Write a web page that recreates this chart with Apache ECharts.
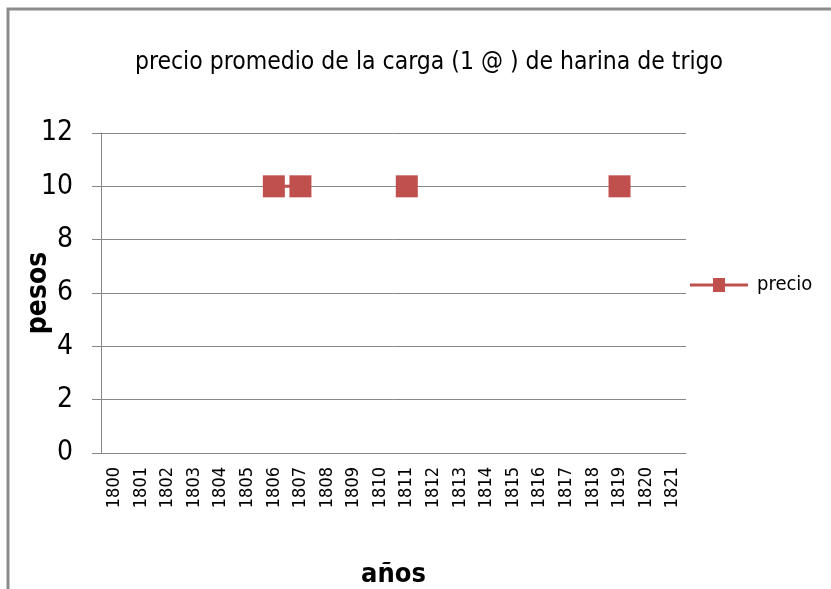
<!DOCTYPE html>
<html>
<head>
<meta charset="utf-8">
<script src="https://cdn.jsdelivr.net/npm/echarts@6/dist/echarts.min.js"></script>
<style>
  html, body { margin: 0; padding: 0; background: #fff; }
  #chart { width: 831px; height: 589px; }
</style>
</head>
<body>
<div id="chart"></div>
<script>
// años 1800-1821
const years = ['1800', '1801', '1802', '1803', '1804', '1805', '1806', '1807', '1808', '1809', '1810',
  '1811', '1812', '1813', '1814', '1815', '1816', '1817', '1818', '1819', '1820', '1821'];
// precio en pesos (solo hay datos para algunos años)
const precio = [null, null, null, null, null, null, 10, 10, null, null, null,
  10, null, null, null, null, null, null, null, 10, null, null];
const yTicks = [0, 2, 4, 6, 8, 10, 12];

const chart = echarts.init(document.getElementById('chart'));
const red = '#C0504D';
const font = '"DejaVu Sans Condensed", "Liberation Sans Narrow", sans-serif';

chart.setOption({
  animation: false,
  backgroundColor: '#fff',
  title: {
    text: 'precio promedio de la carga (1 @ ) de harina de trigo',
    left: 424,
    top: 45,
    textAlign: 'center',
    textStyle: { fontFamily: font, fontSize: 24.5, fontWeight: 'normal', color: '#000' }
  },
  graphic: [{
    type: 'rect',
    shape: { x: 8, y: 9, width: 900, height: 700 },
    style: { fill: 'none', stroke: '#8c8c8c', lineWidth: 3 },
    silent: true
  }],
  legend: {
    left: 685,
    top: 270,
    itemWidth: 58,
    itemHeight: 14,
    itemGap: 6,
    textStyle: { fontFamily: font, fontSize: 20, color: '#000', padding: [0, 0, 0, 4] },
    data: [{ name: 'precio', icon: 'path://M0,5.5 L23,5.5 L23,0 L35,0 L35,5.5 L58,5.5 L58,8.5 L35,8.5 L35,14 L23,14 L23,8.5 L0,8.5 Z' }]
  },
  grid: { left: 101, right: 145, top: 133, bottom: 136, outerBoundsMode: 'none', containLabel: false },
  xAxis: {
    type: 'category',
    data: years,
    boundaryGap: true,
    name: 'años',
    nameLocation: 'middle',
    nameGap: 108,
    nameMoveOverlap: false,
    nameTextStyle: { fontFamily: font, fontSize: 27, fontWeight: 'bold', color: '#000' },
    axisLine: { show: true, lineStyle: { color: '#868686', width: 1 } },
    axisTick: { show: false },
    axisLabel: {
      rotate: 90,
      margin: 14,
      fontFamily: font,
      fontSize: 18,
      color: '#000',
      interval: 0
    },
    splitLine: { show: false }
  },
  yAxis: {
    type: 'value',
    min: yTicks[0],
    max: yTicks[yTicks.length - 1],
    interval: 2,
    name: 'pesos',
    nameLocation: 'middle',
    nameGap: 48,
    nameMoveOverlap: false,
    nameRotate: 90,
    nameTextStyle: { fontFamily: font, fontSize: 28, fontWeight: 'bold', color: '#000' },
    axisLine: { show: true, lineStyle: { color: '#868686', width: 1 } },
    axisTick: { show: true, length: 9, lineStyle: { color: '#868686' } },
    axisLabel: { fontFamily: font, fontSize: 28, color: '#000', margin: 28, padding: [8, 0, 0, 0] },
    splitLine: { show: true, lineStyle: { color: '#868686', width: 1 } }
  },
  series: [{
    name: 'precio',
    type: 'line',
    data: precio,
    connectNulls: false,
    symbol: 'rect',
    symbolSize: 22,
    itemStyle: { color: red },
    lineStyle: { color: red, width: 3 }
  }]
});
</script>
</body>
</html>
